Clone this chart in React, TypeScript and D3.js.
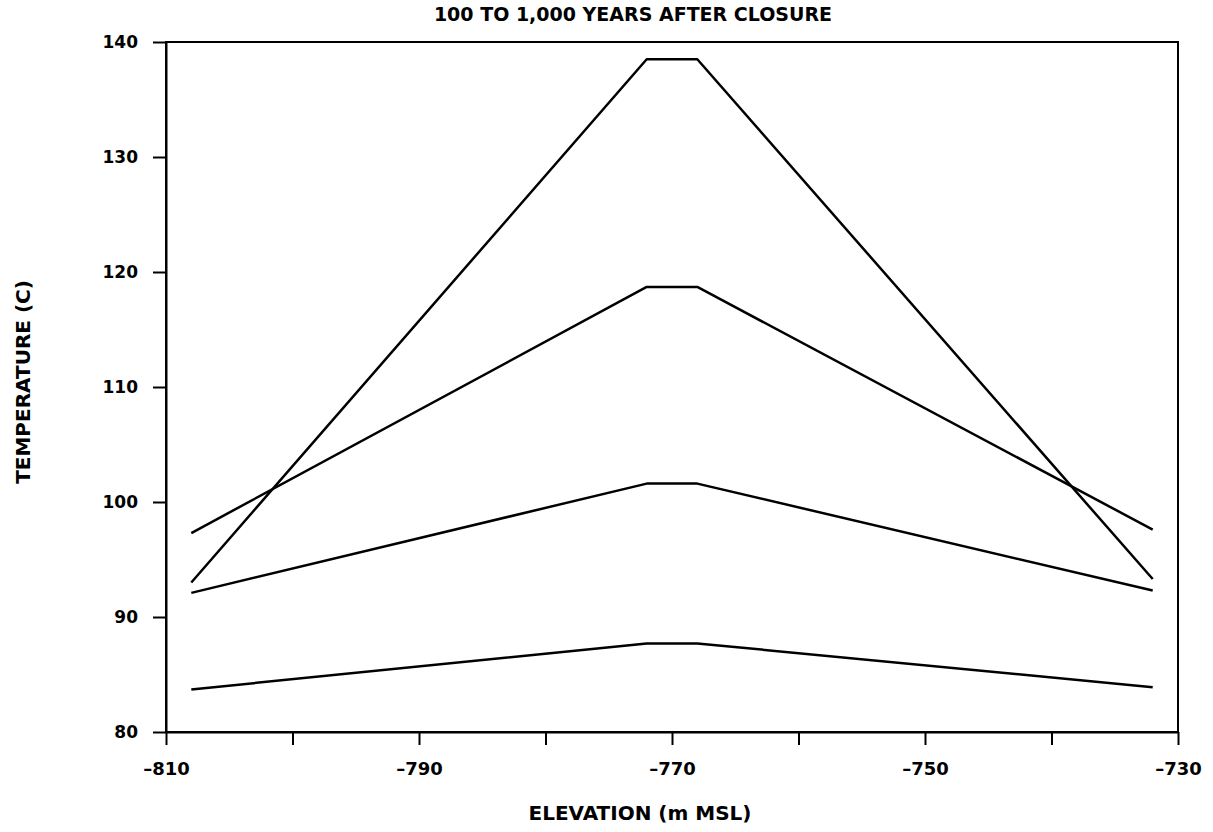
import React, { useEffect, useRef } from 'react';
import * as d3 from 'd3';

// elevation (m MSL) of the plotted points
const elevations = [-808, -772, -768, -732];

// temperature (C) profiles, top peak to bottom peak
const seriesA = [93.0, 138.5, 138.5, 93.3];
const seriesB = [97.3, 118.7, 118.7, 97.6];
const seriesC = [92.1, 101.6, 101.6, 92.3];
const seriesD = [83.7, 87.7, 87.7, 83.9];

const xTicks = [-810, -800, -790, -780, -770, -760, -750, -740, -730];
const xLabeled = [-810, -790, -770, -750, -730];
const yTicks = [80, 90, 100, 110, 120, 130, 140];

const title = '100 TO 1,000 YEARS AFTER CLOSURE';
const xTitle = 'ELEVATION (m MSL)';
const yTitle = 'TEMPERATURE (C)';

const FONT = '"DejaVu Sans", sans-serif';

const App = () => {
  const svgRef = useRef<SVGSVGElement>(null);

  useEffect(() => {
    const svg = d3.select(svgRef.current);
    svg.selectAll('*').remove();

    const width = 1213;
    const height = 832;
    const margin = { top: 42, right: 35, bottom: 100, left: 166 };

    const x = d3.scaleLinear()
      .domain([-810, -730])
      .range([margin.left, width - margin.right]);

    const y = d3.scaleLinear()
      .domain([80, 140])
      .range([height - margin.bottom, margin.top]);

    // frame
    svg.append('rect')
      .attr('x', x(-810))
      .attr('y', y(140))
      .attr('width', x(-730) - x(-810))
      .attr('height', y(80) - y(140))
      .attr('fill', 'none')
      .attr('stroke', '#000')
      .attr('stroke-width', 2);

    // x axis
    const xAxis = svg.append('g')
      .attr('transform', `translate(0,${y(80)})`)
      .call(d3.axisBottom(x)
        .tickValues(xTicks)
        .tickSize(13)
        .tickSizeOuter(0)
        .tickPadding(17)
        .tickFormat(d => (xLabeled.includes(+d) ? `\u2013${Math.abs(+d)}` : '')));
    xAxis.select('.domain').attr('stroke-width', 2);
    xAxis.selectAll('.tick line').attr('stroke-width', 2);
    xAxis.selectAll('text')
      .attr('fill', '#000')
      .style('font-family', FONT)
      .style('font-weight', 'bold')
      .style('font-size', '18px');

    // y axis
    const yAxis = svg.append('g')
      .attr('transform', `translate(${x(-810)},0)`)
      .call(d3.axisLeft(y)
        .tickValues(yTicks)
        .tickSize(13)
        .tickSizeOuter(0)
        .tickPadding(15)
        .tickFormat(d3.format('d')));
    yAxis.select('.domain').attr('stroke-width', 2);
    yAxis.selectAll('.tick line').attr('stroke-width', 2);
    yAxis.selectAll('text')
      .attr('fill', '#000')
      .style('font-family', FONT)
      .style('font-weight', 'bold')
      .style('font-size', '17px');

    // profiles
    const line = d3.line<number>()
      .x((_, i) => x(elevations[i]))
      .y(d => y(d));

    [seriesA, seriesB, seriesC, seriesD].forEach(s => {
      svg.append('path')
        .datum(s)
        .attr('d', line)
        .attr('fill', 'none')
        .attr('stroke', '#000')
        .attr('stroke-width', 2.5)
        .attr('stroke-linejoin', 'round');
    });

    // titles
    svg.append('text')
      .attr('x', 633)
      .attr('y', 21)
      .attr('text-anchor', 'middle')
      .style('font-family', FONT)
      .style('font-weight', 'bold')
      .style('font-size', '19px')
      .text(title);

    svg.append('text')
      .attr('x', 640)
      .attr('y', 820)
      .attr('text-anchor', 'middle')
      .style('font-family', FONT)
      .style('font-weight', 'bold')
      .style('font-size', '20px')
      .text(xTitle);

    svg.append('text')
      .attr('transform', 'translate(30,382) rotate(-90)')
      .attr('text-anchor', 'middle')
      .style('font-family', FONT)
      .style('font-weight', 'bold')
      .style('font-size', '20px')
      .text(yTitle);
  }, []);

  return (
    <svg
      ref={svgRef}
      width={1213}
      height={832}
      style={{ position: 'absolute', left: 0, top: 0, background: '#fff' }}
    />
  );
};

export default App;
